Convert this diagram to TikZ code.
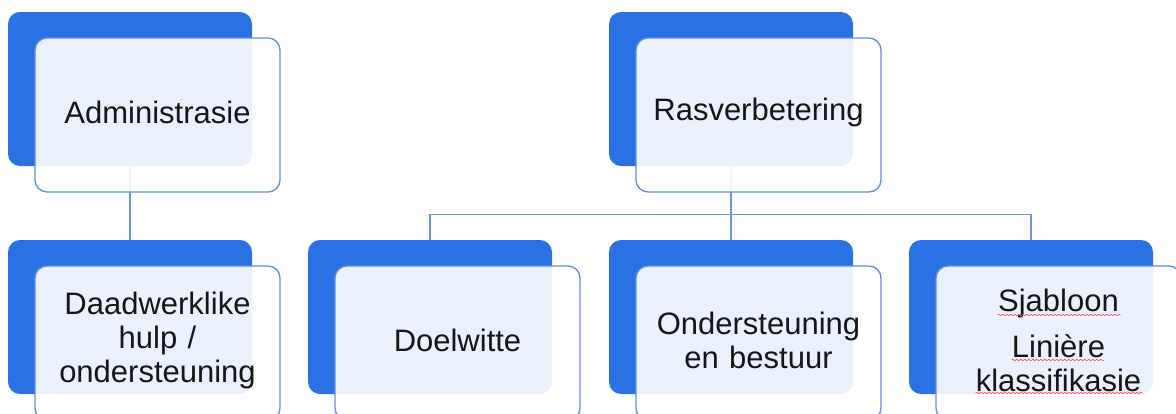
\documentclass[tikz,border=0pt]{standalone}
\usepackage{fontspec}
\setmainfont{Liberation Sans}
\usetikzlibrary{calc}
\usetikzlibrary{positioning}
\usetikzlibrary{decorations.pathmorphing}

\definecolor{backblue}{HTML}{2A72E4}
\definecolor{edgeblue}{HTML}{5D8EE6}
\definecolor{lineblue}{HTML}{6C95DC}
\definecolor{inktext}{HTML}{161616}

\begin{document}
\begin{tikzpicture}[
        x=1pt, y=-1pt,
        backbox/.style={rectangle, rounded corners=12pt, fill=backblue,
                        minimum width=244pt, minimum height=154pt},
        frontbox/.style={rectangle, rounded corners=12pt, draw=edgeblue,
                         line width=1.3pt, fill=white, fill opacity=0.9,
                         text opacity=1, text=inktext,
                         minimum width=245pt, minimum height=154pt,
                         text width=228pt, align=center,
                         font=\fontsize{31}{34}\selectfont,
                         execute at end node={\endgraf\vspace{6pt}}},
        link/.style={draw=lineblue, line width=1.2pt},
        spellmark/.style={draw=red!70, line width=0.6pt, decorate,
                          decoration={snake, amplitude=0.8pt, segment length=4pt}},
    ]
    \clip (0,0) rectangle (1176,413);

    \node[backbox] (admb) at (130, 89) {};
    \node[backbox] (rasb) at (731, 89) {};
    \node[backbox] (hulpb) at (130, 317) {};
    \node[backbox] (doelb) at (430, 317) {};
    \node[backbox] (ondb) at (731, 317) {};
    \node[backbox] (sjab) at (1031, 317) {};

    \draw[link] (admb.south) -- (hulpb.north);
    \coordinate (split) at ($(rasb.south)+(0,48)$);
    \draw[link] (rasb.south) -- (split);
    \foreach \child in {doelb, ondb, sjab}
        \draw[link] (split) -| (\child.north);

    \node[frontbox] (adm) at ($(admb)+(27.5,26)$) {Administrasie};
    \node[frontbox] (ras) at ($(rasb)+(27.5,26)$) {Rasverbetering};
    \node[frontbox] (hulp) at ($(hulpb)+(27.5,26)$) {Daadwerklike\\hulp /\\ondersteuning};
    \node[frontbox] (doel) at ($(doelb)+(27.5,26)$) {Doelwitte};
    \node[frontbox] (ond) at ($(ondb)+(27.5,26)$) {Ondersteuning\\en bestuur};
    \node[frontbox] (sja) at ($(sjab)+(27.5,26)$)
        {Sjabloon\\[12pt]Linière\\klassifikasie};

    \draw[spellmark] ($(sja)+(-61,-28)$) -- ($(sja)+(62,-28)$);
    \draw[spellmark] ($(sja)+(-47,17)$) -- ($(sja)+(46,17)$);
    \draw[spellmark] ($(sja)+(-83,50)$) -- ($(sja)+(84,50)$);

\end{tikzpicture}
\end{document}
